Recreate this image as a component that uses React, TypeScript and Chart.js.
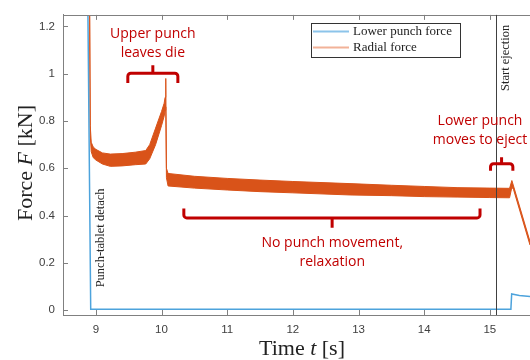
import { useEffect, useRef } from "react";
import { Chart, registerables } from "chart.js";

Chart.register(...registerables);

// ---- data ----
const xTicks = [9, 10, 11, 12, 13, 14, 15];
const yTicks = [0, 0.2, 0.4, 0.6, 0.8, 1, 1.2];

const lowerTime = [8.878, 8.922, 15.32, 15.332, 15.45, 15.611];
const lowerForce = [1.3, 0.003, 0.003, 0.068, 0.062, 0.057];

const radialTime = [8.905, 8.915, 8.93, 8.96, 9.0, 9.1, 9.22, 9.4, 9.6, 9.76, 9.82, 9.91, 10.0, 10.04, 10.055, 10.065, 10.075, 10.1, 10.5, 11, 11.5, 12, 12.87, 13.5, 14, 14.5, 15, 15.3, 15.335, 15.36, 15.611];
const radialHigh = [1.3, 0.78, 0.71, 0.69, 0.68, 0.665, 0.66, 0.662, 0.668, 0.675, 0.7, 0.77, 0.84, 0.875, 0.9, 0.98, 0.6, 0.578, 0.566, 0.557, 0.55, 0.544, 0.535, 0.528, 0.523, 0.518, 0.516, 0.515, 0.548, 0.525, 0.29];
const radialLow = [1.3, 0.74, 0.67, 0.645, 0.635, 0.618, 0.608, 0.61, 0.615, 0.618, 0.64, 0.7, 0.78, 0.82, 0.845, 0.86, 0.56, 0.525, 0.516, 0.508, 0.501, 0.496, 0.487, 0.484, 0.48, 0.478, 0.476, 0.475, 0.52, 0.51, 0.275];

const ejectionTime = 15.087;
const seriesLabels = ["Lower punch force", "Radial force"];

const BLUE = "#4DA3DC";
const ORANGE = "#D95319";
const RED = "#C00000";
const AXIS = "#808080";

export default function App() {
  const ref = useRef<HTMLCanvasElement | null>(null);

  useEffect(() => {
    if (!ref.current) return;

    const overlay = {
      id: "overlay",
      afterDraw(chart: any) {
        const ctx = chart.ctx as CanvasRenderingContext2D;
        const { left, top, right, bottom } = chart.chartArea;
        const xs = chart.scales.x;
        const ys = chart.scales.y;
        const X = (v: number) => xs.getPixelForValue(v);
        const Y = (v: number) => ys.getPixelForValue(v);
        ctx.save();

        // top border + inward ticks
        ctx.strokeStyle = AXIS;
        ctx.lineWidth = 1;
        ctx.beginPath();
        ctx.moveTo(left, Math.round(top) + 0.5);
        ctx.lineTo(right, Math.round(top) + 0.5);
        for (const t of xTicks) {
          const px = Math.round(X(t)) + 0.5;
          ctx.moveTo(px, bottom);
          ctx.lineTo(px, bottom - 5);
          ctx.moveTo(px, top);
          ctx.lineTo(px, top + 5);
        }
        for (const t of yTicks) {
          const py = Math.round(Y(t)) + 0.5;
          ctx.moveTo(left, py);
          ctx.lineTo(left + 5, py);
        }
        ctx.stroke();

        // start ejection line
        ctx.strokeStyle = "#404040";
        ctx.beginPath();
        const ex = Math.round(X(ejectionTime)) + 0.5;
        ctx.moveTo(ex, top);
        ctx.lineTo(ex, bottom);
        ctx.stroke();

        // rotated labels
        ctx.fillStyle = "#222";
        ctx.textAlign = "left";
        ctx.textBaseline = "alphabetic";
        ctx.font = '12.5px "Liberation Serif"';
        ctx.save();
        ctx.translate(X(9.07) + 4, Y(0.096));
        ctx.rotate(-Math.PI / 2);
        ctx.fillText("Punch-tablet detach", 0, 0);
        ctx.restore();
        ctx.save();
        ctx.translate(ex + 12, Y(0.927));
        ctx.rotate(-Math.PI / 2);
        ctx.fillText("Start ejection", 0, 0);
        ctx.restore();

        // legend
        ctx.fillStyle = "#fff";
        ctx.fillRect(311, 23, 149, 34);
        ctx.strokeStyle = "#333";
        ctx.lineWidth = 1;
        ctx.strokeRect(311.5, 23.5, 149, 34);
        const legendColors = ["#8CC4EA", "#F2B298"];
        ctx.font = '13px "Liberation Serif"';
        ctx.textBaseline = "middle";
        seriesLabels.forEach((lab, i) => {
          const ly = 31.5 + i * 16;
          ctx.strokeStyle = legendColors[i];
          ctx.lineWidth = 2;
          ctx.beginPath();
          ctx.moveTo(313, ly);
          ctx.lineTo(349, ly);
          ctx.stroke();
          ctx.fillStyle = "#222";
          ctx.fillText(lab, 353, ly);
        });

        // brackets
        const bracket = (x1: number, x2: number, xc: number, yl: number, ye: number, yn: number) => {
          const a = X(x1), b = X(x2), c = X(xc);
          const l = Y(yl), e = Y(ye), n = Y(yn);
          ctx.strokeStyle = RED;
          ctx.lineWidth = 3;
          ctx.lineJoin = "round";
          ctx.lineCap = "butt";
          ctx.beginPath();
          ctx.moveTo(a, e);
          ctx.arcTo(a, l, a + 4, l, 3);
          ctx.arcTo(b, l, b, e, 3);
          ctx.lineTo(b, e);
          ctx.moveTo(c, l);
          ctx.lineTo(c, n);
          ctx.stroke();
        };
        bracket(9.487, 10.249, 9.868, 1.0025, 0.961, 1.036);
        bracket(15.01, 15.35, 15.178, 0.619, 0.589, 0.647);
        bracket(10.34, 14.85, 12.598, 0.39, 0.43, 0.348);

        ctx.fillStyle = RED;
        ctx.font = '14px "Open Sans"';
        ctx.textAlign = "center";
        ctx.textBaseline = "middle";
        ctx.fillText("Upper punch", X(9.868), Y(1.17));
        ctx.fillText("leaves die", X(9.868), Y(1.089));
        ctx.fillText("Lower punch", X(14.85), Y(0.798));
        ctx.fillText("moves to eject", X(14.85), Y(0.718));
        ctx.fillText("No punch movement,", X(12.6), Y(0.285));
        ctx.fillText("relaxation", X(12.6), Y(0.2017));

        // axis titles with italic symbols
        const drawParts = (parts: [string, boolean][], cx: number, cy: number) => {
          ctx.textAlign = "left";
          ctx.textBaseline = "alphabetic";
          ctx.fillStyle = "#222";
          let w = 0;
          for (const [s, it] of parts) {
            ctx.font = (it ? "italic " : "") + '22px "Liberation Serif"';
            w += ctx.measureText(s).width;
          }
          let x = cx - w / 2;
          for (const [s, it] of parts) {
            ctx.font = (it ? "italic " : "") + '22px "Liberation Serif"';
            ctx.fillText(s, x, cy);
            x += ctx.measureText(s).width;
          }
        };
        drawParts([["Time ", false], ["t", true], [" [s]", false]], 302, 355);
        ctx.save();
        ctx.translate(32, 163);
        ctx.rotate(-Math.PI / 2);
        drawParts([["Force ", false], ["F", true], [" [kN]", false]], 0, 0);
        ctx.restore();

        ctx.restore();
      },
    };

    const tickFont = { family: '"Liberation Sans", Arial, sans-serif', size: 11.5 };

    const chart = new Chart(ref.current, {
      type: "line",
      data: {
        datasets: [
          {
            label: seriesLabels[0],
            data: lowerTime.map((t, i) => ({ x: t, y: lowerForce[i] })),
            borderColor: BLUE,
            borderWidth: 1.5,
            pointRadius: 0,
            fill: false,
          },
          {
            label: seriesLabels[1],
            data: radialTime.map((t, i) => ({ x: t, y: radialHigh[i] })),
            borderColor: ORANGE,
            backgroundColor: ORANGE,
            borderWidth: 1,
            pointRadius: 0,
            fill: "+1",
          },
          {
            label: seriesLabels[1] + " (lower)",
            data: radialTime.map((t, i) => ({ x: t, y: radialLow[i] })),
            borderColor: ORANGE,
            borderWidth: 1,
            pointRadius: 0,
            fill: false,
          },
        ],
      },
      options: {
        animation: false,
        responsive: false,
        devicePixelRatio: 1,
        layout: { padding: { top: 11, right: 0, left: 0, bottom: 0 } },
        plugins: { legend: { display: false }, tooltip: { enabled: false } },
        elements: { line: { tension: 0 } },
        scales: {
          x: {
            type: "linear",
            min: 8.5,
            max: 15.611,
            grid: { display: false, drawTicks: false },
            border: { display: true, color: AXIS, width: 1 },
            ticks: { font: tickFont, color: "#404040", padding: 8, maxRotation: 0, callback: (v: any) => String(v) },
            afterBuildTicks: (s: any) => { s.ticks = xTicks.map((v) => ({ value: v })); },
            afterFit: (s: any) => { s.height = 45; },
          },
          y: {
            type: "linear",
            min: -0.021,
            max: 1.249,
            grid: { display: false, drawTicks: false },
            border: { display: true, color: AXIS, width: 1 },
            ticks: { font: tickFont, color: "#404040", padding: 8, callback: (v: any) => String(v) },
            afterBuildTicks: (s: any) => { s.ticks = yTicks.map((v) => ({ value: v })); },
            afterFit: (s: any) => { s.width = 63; },
          },
        },
      },
      plugins: [overlay],
    } as any);

    return () => chart.destroy();
  }, []);

  return (
    <div style={{ position: "fixed", left: 0, top: 0, width: 530, height: 360, background: "#fff" }}>
      <canvas ref={ref} width={530} height={360} style={{ width: 530, height: 360, display: "block" }} />
    </div>
  );
}
